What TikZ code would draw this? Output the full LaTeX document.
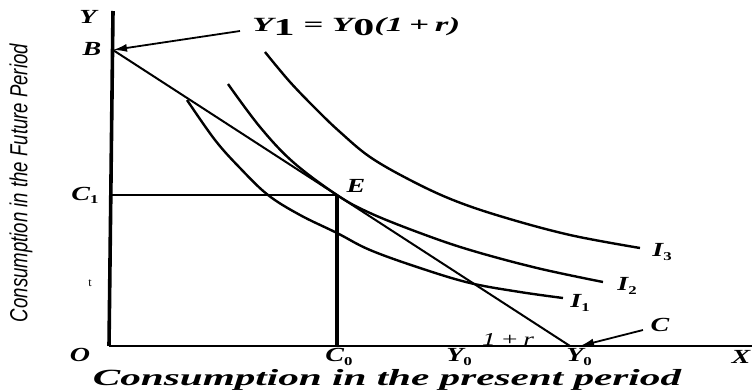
\documentclass[tikz,border=0pt]{standalone}
\usepackage{graphicx}
\usepackage{fontspec}
\setmainfont{Liberation Serif}
\newfontfamily\ysans{Liberation Sans}
\usetikzlibrary{arrows.meta}
\newcommand\lowsub[1]{\raisebox{-0.35ex}{\fontsize{12}{12}\selectfont\upshape #1}}
\newcommand\widetext[1]{\scalebox{1.4}[1]{#1}}
\begin{document}
\begin{tikzpicture}[x=1pt,y=-1pt,
  axisline/.style={line width=3.6pt},
  xaxisline/.style={line width=2.2pt},
  guide/.style={line width=1.8pt},
  budget/.style={line width=2pt},
  icurve/.style={line width=2.4pt},
  lab/.style={font=\fontsize{20}{20}\selectfont\bfseries\itshape, inner sep=0pt},
  pointer/.style={line width=1.8pt, -{Latex[length=14pt,width=8pt]}},
  ]
\useasboundingbox (0,0) rectangle (755,391);
% points
\coordinate (O) at (109,346);
\coordinate (Ytop) at (113,11);
\coordinate (Xend) at (752,346);
\coordinate (B) at (113,50);
\coordinate (Cpt) at (570,346);
\coordinate (E) at (337,195);
\coordinate (C1) at (110,195);
\coordinate (C0) at (337,346);
\coordinate (arrB) at (240,31);
\coordinate (arrC) at (643,330);
\coordinate (tipC) at (580,346);
% axes
\draw[axisline] (Ytop) -- (O);
\draw[xaxisline] (O) -- (Xend);
% guides
\draw[guide] (C1) -- (E);
\draw[line width=3.2pt] (E) -- (C0);
% budget line
\draw[budget] (B) -- (Cpt);
% indifference curves
\draw[icurve] plot[smooth, tension=0.6] coordinates {(187,100) (215,140) (240,168) (268,195) (300,215) (337,233) (370,250) (420,268) (470,283) (520,292) (563,298)};
\draw[icurve] plot[smooth, tension=0.6] coordinates {(228,84) (260,127) (293,162) (337,195) (370,213) (420,233) (470,250) (537,268) (603,282)};
\draw[icurve] plot[smooth, tension=0.6] coordinates {(265,52) (290,82) (317,110) (340,132) (370,157) (410,180) (453,200) (503,217) (570,235) (640,248)};
% labels
\node[lab] (Ylab) at (88,17) {\widetext{Y}};
\node[lab] (Blab) at (92,49) {\widetext{B}};
\node[lab] (C1lab) at (85,195) {\widetext{C\lowsub{1}}};
\node[lab, font=\fontsize{12}{12}\selectfont] (tlab) at (90,283) {t};
\node[lab] (Olab) at (80,355) {\widetext{O}};
\node[lab] (C0lab) at (339,357) {\widetext{C\lowsub{0}}};
\node[lab] (Y0alab) at (459,357) {\widetext{Y\lowsub{0}}};
\node[lab] (Y0blab) at (579,357) {\widetext{Y\lowsub{0}}};
\node[lab] (Xlab) at (741,357) {\widetext{X}};
\node[lab] (Elab) at (356,186) {\widetext{E}};
\node[inner sep=0pt] (rlab) at (508,339) {\resizebox{52pt}{12pt}{\itshape 1\,+\,r}};
\node[lab] (Clab) at (660,325) {\widetext{C}};
\node[lab] (I1lab) at (580,303) {\widetext{I\lowsub{1}}};
\node[lab] (I2lab) at (627,286) {\widetext{I\lowsub{2}}};
\node[lab] (I3lab) at (662,252) {\widetext{I\lowsub{3}}};
\node[inner sep=0pt, anchor=west] (toplab) at (252,27) {\resizebox{208pt}{14pt}{\bfseries\itshape Y\lowsub{1} = Y\lowsub{0}(1\,+\,r)}};
\node[inner sep=0pt, rotate=90] (ylabel) at (21,183) {\resizebox*{278pt}{23pt}{\ysans\itshape Consumption in the Future Period}};
\node[inner sep=0pt] (xlabel) at (387,380) {\resizebox*{588pt}{21pt}{\bfseries\itshape Consumption in the present period}};
% pointers
\draw[pointer] (arrB) -- (B);
\draw[pointer] (arrC) -- (tipC);
\end{tikzpicture}
\end{document}
